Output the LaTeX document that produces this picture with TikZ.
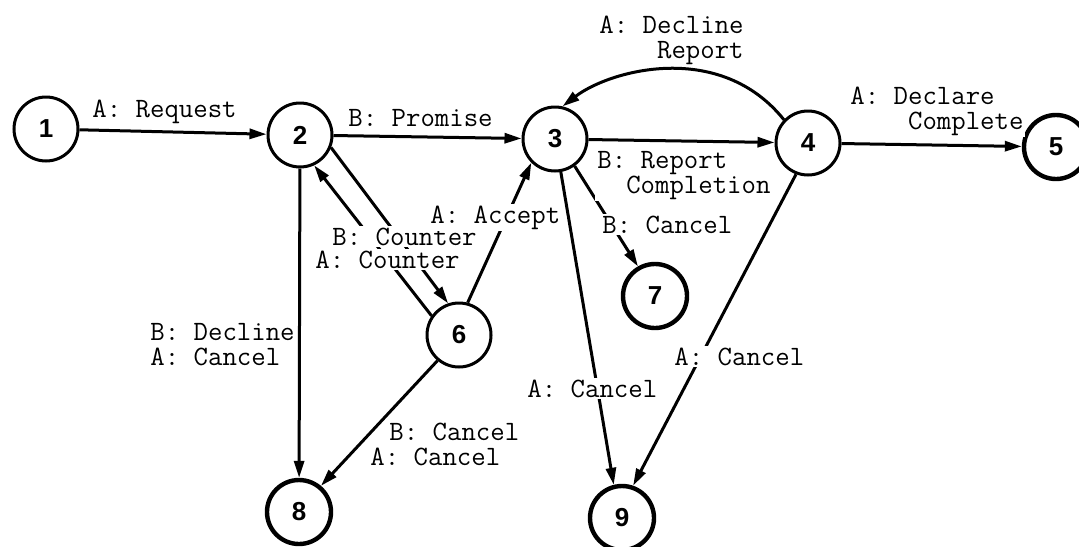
\documentclass[tikz,border=0pt]{standalone}
\usepackage{fontspec}
\setsansfont{Liberation Sans}
\usetikzlibrary{arrows.meta}
\begin{document}
\begin{tikzpicture}[x=0.5pt,y=-0.5pt,
  state/.style={circle,draw,line width=1.5pt,minimum size=32pt,inner sep=0pt,
    font=\sffamily\bfseries\fontsize{13}{13}\selectfont},
  final/.style={state,line width=2.2pt},
  trans/.style={line width=1.5pt,-{Triangle[length=8.5pt,width=5pt]}},
  lbl/.style={font=\ttfamily\fontsize{14}{12.3}\selectfont,fill=white,
    inner sep=1pt,anchor=base west,align=left}]
\useasboundingbox (0,0) rectangle (1079,546);

% states
\node[state] (n1) at (46,129) {1};
\node[state] (n2) at (300,135) {2};
\node[state] (n3) at (555,139) {3};
\node[state] (n4) at (808,143) {4};
\node[final] (n5) at (1056,147) {5};
\node[state] (n6) at (459,335) {6};
\node[final] (n7) at (655,296) {7};
\node[final] (n8) at (299,512) {8};
\node[final] (n9) at (622,518) {9};

% transitions
\draw[trans] (n1) -- (n2);
\draw[trans] (n2) -- (n3);
\draw[trans] (n3) -- (n4);
\draw[trans] (n4) -- (n5);
\draw[trans] (n4.136) .. controls (720,40) and (610,70) .. (n3.77);
\draw[trans] (n2) -- (n8);
\draw[trans] (n2.-22) -- (n6.109);
\draw[trans] (n6.145) -- (n2.-65);
\draw[trans] (n6.75) -- (n3.-135);
\draw[trans] (n6.-130) -- (n8.50);
\draw[trans] (n3.-54) -- (n7.120);
\draw[trans] (n3.-80) -- (n9.104);
\draw[trans] (n4.-111) -- (n9.71);

% transition labels (base anchor sits on the last line)
\node[lbl] (lreq) at (90,117) {A: Request};
\node[lbl] (lprom) at (346,126) {B: Promise};
\node[lbl] (ldecrep) at (597,58) {A: Decline\\\hphantom{0000}Report};
\node[lbl] (lrepcomp) at (595,193) {B: Report\\\hphantom{00}Completion};
\node[lbl] (ldeclcomp) at (848,129) {A: Declare\\\hphantom{0000}Complete};
\node[lbl] (lbcount) at (330,245) {B: Counter};
\node[lbl] (lacount) at (313,268) {A: Counter};
\node[lbl] (laccept) at (428,223) {A: Accept};
\node[lbl] (ldecl) at (148,365) {B: Decline\\A: Cancel};
\node[lbl] (lcan37) at (600,233) {B: Cancel};
\node[lbl] (lcan39) at (525,397) {A: Cancel};
\node[lbl] (lcan49) at (672,365) {A: Cancel};
\node[lbl] (lbcan68) at (387,440) {B: Cancel};
\node[lbl] (lacan68) at (368,465) {A: Cancel};
\end{tikzpicture}
\end{document}
